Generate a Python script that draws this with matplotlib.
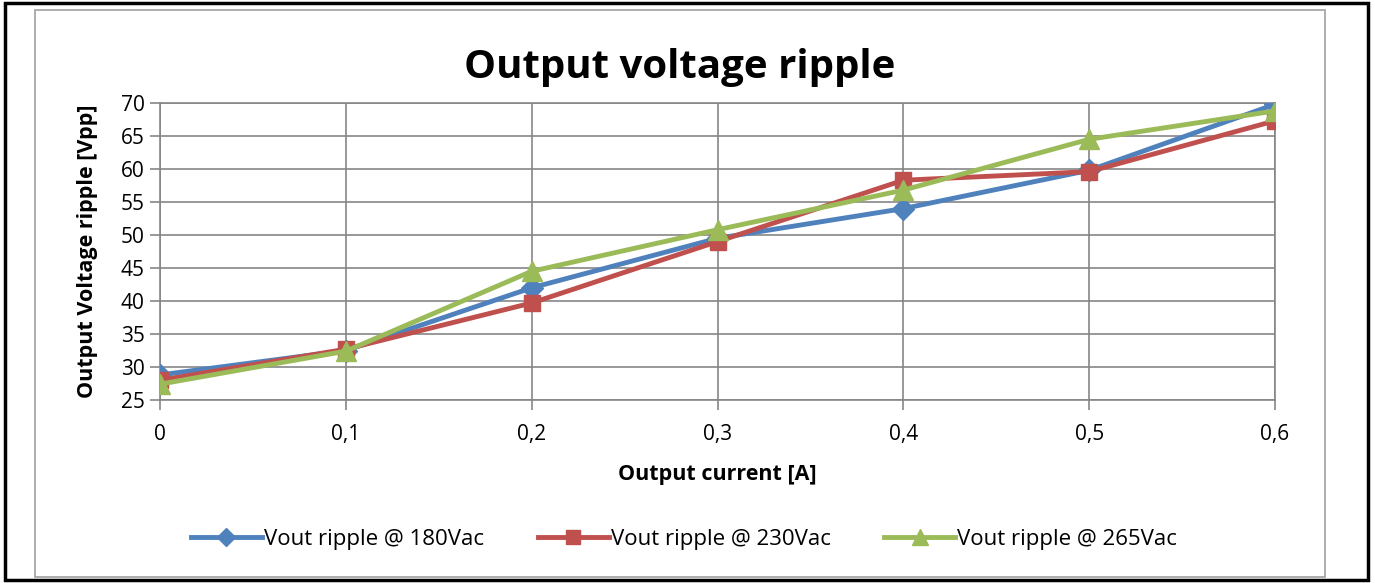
import matplotlib
matplotlib.use("Agg")
import matplotlib.pyplot as plt
from matplotlib.patches import Rectangle

# Datos
corriente = [0, 0.1, 0.2, 0.3, 0.4, 0.5, 0.6]
rizado_180 = [28.8, 32.5, 42.0, 49.5, 54.0, 59.8, 69.8]
rizado_230 = [28.0, 32.7, 39.7, 49.0, 58.3, 59.6, 67.3]
rizado_265 = [27.4, 32.4, 44.5, 50.8, 56.8, 64.5, 68.8]
etiquetas_x = ["0", "0,1", "0,2", "0,3", "0,4", "0,5", "0,6"]
series = ["Vout ripple @ 180Vac", "Vout ripple @ 230Vac", "Vout ripple @ 265Vac"]

plt.rcParams['font.family'] = ['Open Sans', 'DejaVu Sans']

fig = plt.figure(figsize=(13.75, 5.83), dpi=100)
ax = fig.add_axes([160/1375, 183/583, 1115/1375, 297/583])

# Marcos exteriores
fig.patches.append(Rectangle((5/1375, 3/583), 1363/1375, 577/583, transform=fig.transFigure,
                             fill=False, edgecolor='black', linewidth=2.5))
fig.patches.append(Rectangle((35/1375, 6/583), 1290/1375, 567/583, transform=fig.transFigure,
                             fill=False, edgecolor='#a0a0a0', linewidth=1.2))

gris = '#868686'
ax.plot(corriente, rizado_180, color='#4F81BD', lw=3.5, marker='D', ms=11, label=series[0], zorder=3)
ax.plot(corriente, rizado_230, color='#C0504D', lw=3.5, marker='s', ms=12, label=series[1], zorder=3)
ax.plot(corriente, rizado_265, color='#9BBB59', lw=3.5, marker='^', ms=14, label=series[2], zorder=3)

ax.set_xlim(0, 0.6)
ax.set_ylim(25, 70)
ax.set_xticks(corriente)
ax.set_xticklabels(etiquetas_x)
ax.set_yticks(range(25, 71, 5))
ax.grid(True, color=gris, linewidth=1.2)
ax.set_axisbelow(True)
for s in ax.spines.values():
    s.set_color(gris)
    s.set_linewidth(1.2)
ax.tick_params(axis='both', colors=gris, labelcolor='black', labelsize=15, length=7, width=1.2)
ax.tick_params(axis='x', pad=10)
ax.tick_params(axis='y', pad=4)

ax.set_xlabel("Output current [A]", fontsize=15.5, weight='bold', labelpad=14)
ax.set_ylabel("Output Voltage ripple [Vpp]", fontsize=15.5, weight='bold', labelpad=16)

fig.text(0.494, 0.885, "Output voltage ripple", ha='center', va='center', fontsize=29, weight='bold')

leg = ax.legend(loc='center', bbox_to_anchor=(0.47, -0.47), ncol=3, frameon=False, fontsize=16,
                handlelength=3.2, handletextpad=0.1, columnspacing=2.4, markerscale=0.85)

fig.savefig("out.png", dpi=100)
